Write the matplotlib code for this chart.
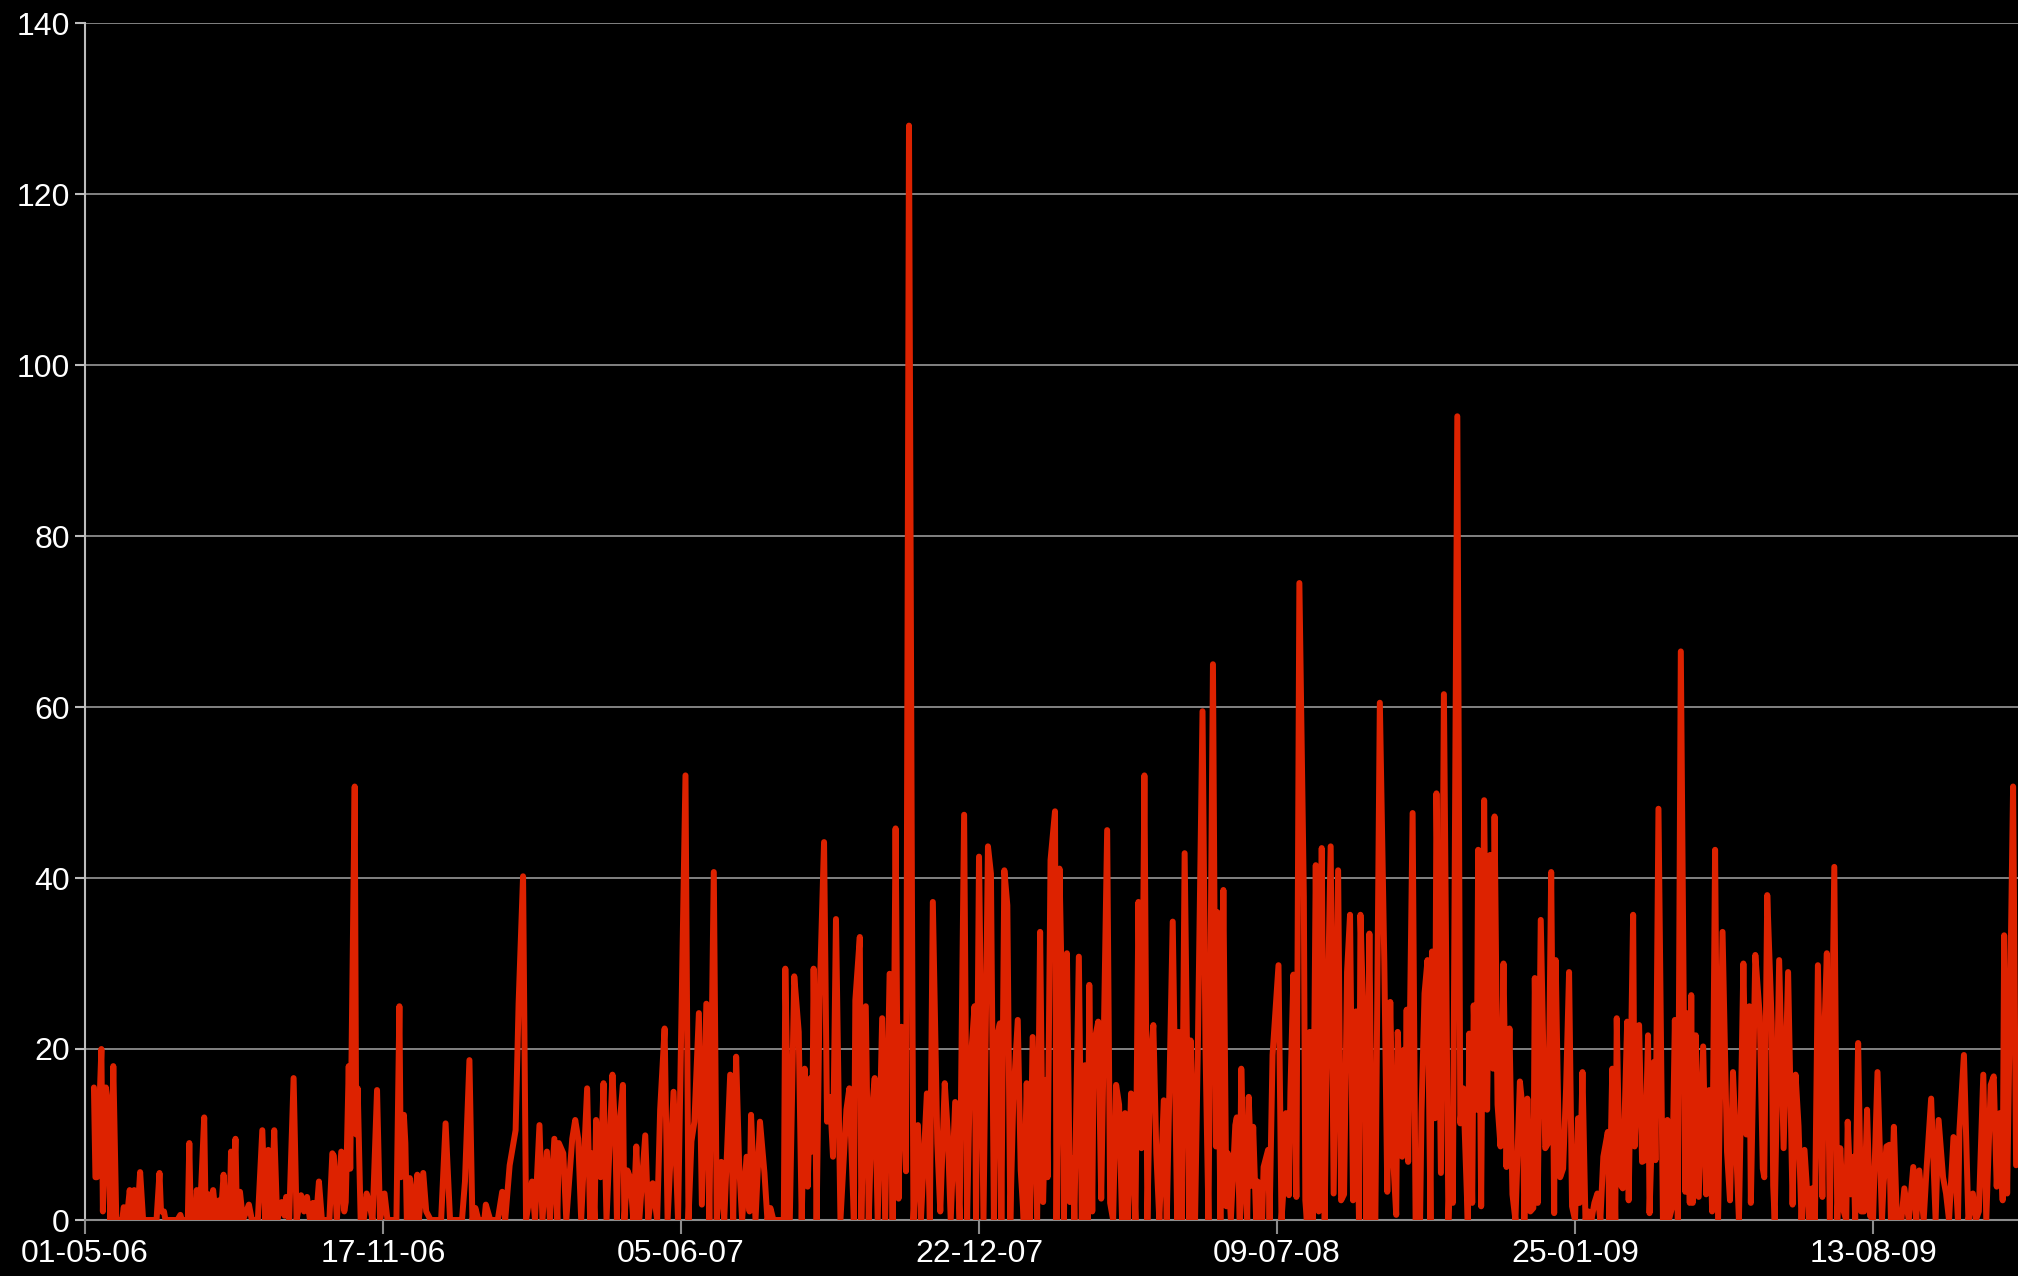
import numpy as np
import matplotlib
matplotlib.use('Agg')
import matplotlib.pyplot as plt
import matplotlib.dates as mdates

plt.rcParams['font.family'] = ['Liberation Sans', 'DejaVu Sans']

# (day offset from 01-05-06, value), one list per stretch
seg1 = [(6, 15.5), (7, 5), (8, 5), (11, 20), (12, 1), (14, 15.5), (15, 14), (17, 0), (19, 18), (21, 0),
        (25, 0), (26, 1.5), (28, 0), (30, 3.5), (32, 0), (33, 3.5), (35, 0), (37, 5.6), (39, 0), (48, 0),
        (50, 5.5), (51, 1), (53, 1), (54, 0), (62, 0), (64, 0.6), (65, 0), (69, 0), (70, 9), (71, 0),
        (74, 0), (75, 3.5), (77, 0), (80, 12), (81, 0), (83, 3), (84, 0), (86, 3.5), (88, 0), (90, 2.3),
        (91, 0), (93, 5.3), (95, 0), (96, 2), (97, 0), (98, 8), (99, 0), (101, 9.5), (102, 0), (104, 3.3)]
seg2 = [(106, 0), (110, 1.8), (112, 0), (116, 0), (119, 10.5), (121, 0), (123, 8.2), (125, 0), (127, 10.5),
        (129, 0), (132, 2.1), (134, 0.5), (135, 2.7), (137, 0), (140, 16.6), (142, 0), (145, 2.9), (147, 1),
        (149, 2.7), (151, 0), (153, 2), (155, 0), (157, 4.5), (159, 0), (164, 0), (166, 7.8), (167, 7.5),
        (169, 0), (172, 8), (174, 1), (175, 2.1), (177, 18), (178, 6), (181, 50.7), (182, 10), (183, 15.4),
        (185, 0), (187, 0), (189, 3.1), (191, 1.8), (193, 0), (196, 15.2), (198, 0), (201, 3.1), (203, 0),
        (209, 0), (211, 25), (212, 5), (214, 12.3)]
seg3 = [(215, 9), (216, 0), (218, 4.9), (220, 0), (223, 5.3), (224, 0), (227, 5.5), (229, 1), (232, 0),
        (239, 0), (242, 11.3), (245, 0), (253, 0), (255, 4.5), (258, 18.7), (260, 0), (262, 1.4), (264, 0),
        (268, 0), (269, 1.8), (272, 0), (277, 0), (280, 3.3), (282, 0), (285, 6.4), (289, 10.5), (291, 25.3),
        (294, 40.2), (296, 0), (300, 4.5), (302, 0), (305, 11.1), (307, 0), (310, 8), (312, 0), (315, 9.5),
        (317, 0), (318, 9), (321, 7.8)]
seg4 = [(323, 0), (327, 9.5), (329, 11.7), (331, 9.5), (333, 0), (337, 15.4), (339, 0), (340, 7.8),
        (342, 0), (343, 11.7), (346, 5), (348, 16), (350, 0), (354, 17), (356, 9.4), (357, 0), (358, 9.4),
        (361, 15.8), (362, 0), (364, 5.8), (366, 4.9), (368, 0), (370, 8.6), (372, 0), (376, 9.9), (378, 0),
        (381, 4.3), (384, 0), (386, 12.9), (389, 22.4), (391, 0), (395, 15), (398, 0), (403, 52), (405, 0),
        (407, 9.2), (409, 11.5), (412, 24.2), (414, 1.8), (417, 25.3), (419, 0), (422, 40.7), (424, 0),
        (427, 6.8)]
seg5 = [(429, 0), (433, 17), (435, 0), (437, 19.1), (439, 6.6), (441, 0), (444, 7.4), (446, 1), (447, 12.3),
        (450, 0), (453, 11.5), (456, 5.5), (458, 0), (460, 1.4), (462, 0), (469, 0), (470, 29.4), (473, 0),
        (476, 28.5), (479, 22), (481, 0), (483, 17.7), (485, 3.9), (487, 16.6), (488, 8), (489, 29.4),
        (491, 0), (493, 25.9), (496, 44.2), (498, 11.5), (500, 14.4), (502, 7.4), (504, 35.2), (507, 0),
        (511, 12.9), (513, 15.4), (516, 0), (517, 25.7), (520, 33.1), (521, 0), (524, 25), (526, 0),
        (528, 12.5), (530, 16.6), (532, 0), (535, 23.6)]
seg6 = [(537, 0), (540, 28.8), (542, 0), (544, 45.8), (546, 2.5), (548, 22.6), (551, 5.7), (553, 128),
        (555, 37), (556, 0), (559, 11.1), (561, 0), (565, 14.8), (567, 0), (569, 37.2), (572, 9), (574, 1),
        (577, 16), (579, 10.3), (581, 0), (584, 13.8), (587, 0), (590, 47.4), (592, 0), (594, 17.5),
        (597, 25), (598, 0), (600, 42.5), (603, 0), (606, 43.7), (608, 40.5), (610, 0), (612, 21.4),
        (614, 23), (615, 0), (617, 40.9), (619, 36.8), (621, 0), (623, 14), (626, 23.4), (628, 5.8),
        (630, 0), (632, 16), (634, 0), (636, 21.4), (639, 0), (641, 33.7), (643, 2.1)]
seg7 = [(645, 16.4), (646, 5), (648, 42.1), (651, 47.8), (652, 0), (654, 41.1), (655, 32), (657, 0),
        (659, 31.2), (661, 2.1), (663, 7.2), (664, 0), (667, 30.8), (669, 0), (671, 18.1), (673, 0),
        (674, 27.5), (676, 1), (677, 20.5), (680, 23.2), (682, 2.5), (686, 45.6), (688, 2), (690, 0),
        (692, 15.8), (694, 13.5), (696, 0), (698, 12.5), (700, 0), (702, 14.8), (705, 0), (707, 37.2),
        (709, 8.4), (711, 52), (713, 0), (715, 18.7), (717, 22.8), (719, 7.8), (721, 0), (724, 14), (726, 0),
        (730, 34.9), (733, 0), (734, 22), (736, 0), (738, 42.9), (741, 0), (742, 21), (745, 0), (747, 21.8)]
seg8 = [(750, 59.5), (752, 20), (754, 0), (757, 65), (759, 8.6), (760, 36), (762, 0), (764, 38.6),
        (766, 1.6), (767, 7.8), (769, 0), (772, 11.1), (773, 12), (775, 0), (776, 17.7), (778, 4.7), (780, 0),
        (781, 14.4), (783, 4), (784, 10.9), (786, 0), (787, 4.5), (790, 0), (791, 6.2), (794, 8.2), (795, 0),
        (797, 19.3), (801, 29.8), (803, 0), (804, 2.7), (806, 12.5), (808, 2.9), (809, 15), (811, 28.7),
        (813, 2.7), (815, 74.5), (818, 37.8), (819, 2.3), (820, 0), (822, 22), (824, 0), (826, 41.5),
        (828, 1), (830, 43.5), (832, 0), (833, 15.2), (836, 43.7), (838, 3.1), (841, 40.9), (843, 2.3),
        (845, 3), (847, 29), (849, 35.7), (851, 2.3), (853, 24.4), (855, 0), (856, 35.7)]
seg9 = [(859, 17.3), (860, 0), (862, 33.5), (864, 0), (866, 0), (869, 60.5), (872, 30.2), (874, 3.3),
        (876, 25.5), (878, 7), (880, 0.6), (881, 22), (884, 7.4), (885, 19.9), (886, 10.1), (887, 24.6),
        (888, 6.8), (891, 47.6), (893, 0), (896, 0), (897, 12.7), (899, 26.5), (901, 30.4), (903, 0),
        (904, 31.4), (906, 11.9), (907, 49.9), (910, 5.5), (912, 61.5), (915, 0), (917, 10.7), (918, 2),
        (921, 94), (923, 11.3), (925, 15.4), (927, 5.3), (928, 0), (929, 21.8), (931, 2), (932, 25.1),
        (934, 12.9), (935, 43.3), (937, 1.6), (939, 49.1), (941, 12.9), (943, 42.7), (945, 17.7),
        (946, 47.2), (948, 13.5), (950, 8.6), (952, 30), (954, 6.2), (956, 22.4), (958, 3), (960, 0),
        (963, 16.2), (965, 12.7)]
seg10 = [(966, 0), (968, 14.2), (970, 1), (972, 1.4), (973, 28.3), (975, 2), (977, 35.1), (980, 8.4),
         (982, 9), (984, 40.7), (986, 0.8), (987, 30.4), (989, 10), (990, 5), (992, 6), (994, 15.4),
         (996, 29), (998, 1.6), (1000, 0), (1002, 11.9), (1003, 2), (1005, 17.3), (1007, 0), (1009, 1),
         (1011, 0), (1013, 2), (1015, 3.1), (1017, 0), (1019, 7.4), (1022, 10.3), (1023, 0), (1025, 17.7),
         (1027, 0), (1028, 23.6), (1030, 4.3), (1032, 3.7), (1035, 23.2), (1036, 2.3), (1039, 35.7),
         (1040, 8.6), (1043, 22.8), (1045, 6.8), (1047, 7), (1049, 21.6), (1050, 0.8), (1053, 18.5),
         (1054, 7), (1056, 48.1), (1059, 0), (1062, 11.7), (1063, 0), (1065, 1.4), (1067, 23.4), (1069, 0),
         (1071, 66.5)]
seg11 = [(1074, 3.3), (1075, 24.2), (1077, 2), (1078, 26.3), (1079, 2), (1081, 21.6), (1083, 2.7),
         (1086, 20.3), (1088, 3), (1090, 15.2), (1092, 1), (1094, 43.3), (1096, 0), (1099, 33.7), (1102, 8),
         (1104, 2.3), (1106, 17.3), (1108, 9), (1110, 0), (1113, 30), (1115, 10), (1117, 25), (1118, 2),
         (1121, 31), (1124, 23.8), (1126, 6), (1127, 5), (1129, 38), (1132, 23), (1133, 4), (1134, 0),
         (1137, 30.4), (1140, 8.4), (1143, 29), (1146, 1.8), (1148, 17), (1150, 11), (1152, 0), (1154, 8.2),
         (1157, 0), (1159, 3.7), (1161, 0), (1163, 29.8), (1166, 2.7), (1167, 20), (1169, 31.2), (1171, 0),
         (1174, 41.3), (1176, 0), (1178, 8.4), (1180, 1.2)]
seg12 = [(1182, 0), (1183, 11.5), (1185, 3), (1187, 7.4), (1188, 0), (1190, 20.7), (1192, 1), (1194, 1),
         (1196, 12.9), (1198, 0.5), (1200, 0), (1203, 17.3), (1206, 0), (1207, 4), (1209, 8.6), (1211, 8.8),
         (1212, 0), (1214, 10.9), (1216, 0), (1219, 0), (1221, 3.7), (1224, 0), (1227, 6.2), (1229, 0),
         (1231, 5.8), (1234, 0), (1236, 6.2), (1239, 14.2), (1242, 0), (1244, 11.7), (1247, 5), (1249, 3.1),
         (1251, 0), (1254, 9.7), (1257, 0), (1258, 10.5), (1261, 19.3), (1264, 0), (1267, 3.1), (1269, 0),
         (1271, 1), (1274, 17), (1276, 0), (1279, 15.8), (1281, 16.8), (1283, 3.9), (1285, 12.5),
         (1287, 2.3), (1288, 33.3), (1290, 3.1), (1292, 26.1), (1294, 50.7), (1296, 6.4)]

start = np.datetime64('2006-05-01')
last_day = 1297.3
tick_step = 200
y_ticks = [0, 20, 40, 60, 80, 100, 120, 140]

pts = seg1 + seg2 + seg3 + seg4 + seg5 + seg6 + seg7 + seg8 + seg9 + seg10 + seg11 + seg12
day = np.array([p[0] for p in pts])
val = np.array([p[1] for p in pts])
dates = start + day.astype('timedelta64[D]')

fig = plt.figure(figsize=(20.18, 12.76), dpi=100, facecolor='black')
ax = fig.add_axes([85 / 2018, 56 / 1276, 1 - 85 / 2018, (1220 - 23) / 1276])
ax.set_facecolor('black')

ax.plot(dates, val, color='#dd2200', lw=4.3, solid_joinstyle='round', solid_capstyle='round', zorder=3)

ax.set_ylim(0, 140)
ax.set_yticks(y_ticks)
ax.set_xlim(start, start + np.timedelta64(int(last_day * 24), 'h'))
xt = [start + np.timedelta64(tick_step * k, 'D') for k in range(7)]
ax.set_xticks(xt)
ax.xaxis.set_major_formatter(mdates.DateFormatter('%d-%m-%y'))

ax.grid(axis='y', color='#8c8c8c', lw=1.3, zorder=1)
ax.grid(axis='x', visible=False)
for s in ['top', 'right']:
    ax.spines[s].set_visible(False)
ax.spines['left'].set_color('#bdbdbd')
ax.spines['bottom'].set_color('#8c8c8c')
ax.spines['left'].set_linewidth(1.5)
ax.spines['bottom'].set_linewidth(1.5)
ax.tick_params(axis='y', colors='white', labelsize=23, length=7, width=1.5, pad=4)
ax.tick_params(axis='x', colors='white', labelsize=23, length=10, width=1.5, pad=4)
ax.tick_params(axis='y', color='#bdbdbd')
ax.tick_params(axis='x', color='#8c8c8c')

fig.savefig('out.png', dpi=100, facecolor='black')
